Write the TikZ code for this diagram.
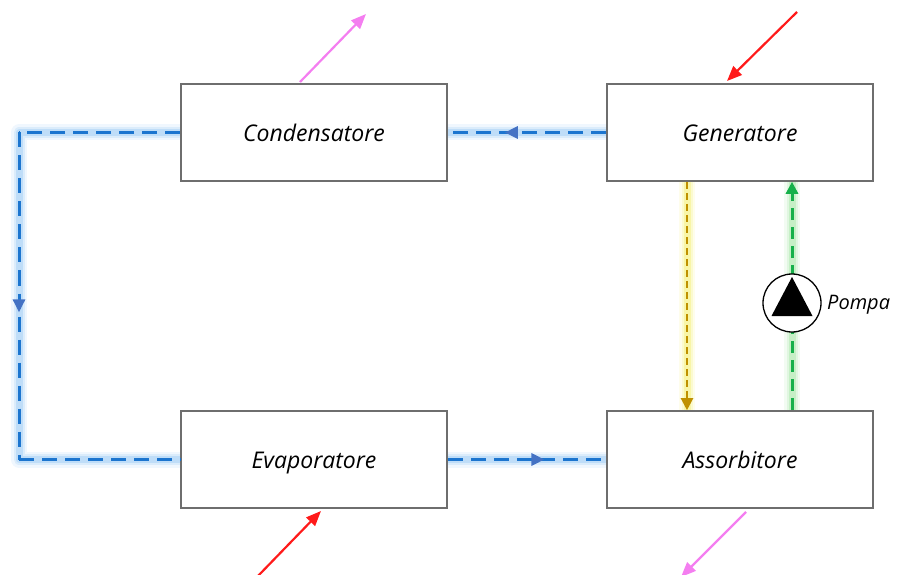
\documentclass[tikz,border=0pt]{standalone}
\usepackage{fontspec}
\setmainfont{Open Sans}
\usetikzlibrary{arrows.meta,decorations.markings}
\definecolor{flowblue}{HTML}{1C75CF}
\definecolor{tipblue}{HTML}{4472C4}
\definecolor{glowblue}{HTML}{9CCBF5}
\definecolor{flowgold}{HTML}{BF9000}
\definecolor{glowyellow}{HTML}{F5F07A}
\definecolor{flowgreen}{HTML}{16B04A}
\definecolor{glowgreen}{HTML}{A8E6A8}
\definecolor{boxgray}{HTML}{6E6E6E}
\definecolor{heatred}{HTML}{FF1A1A}
\definecolor{heatpink}{HTML}{F47EF0}
\tikzset{
  unit/.style={draw=boxgray, line width=1.6pt, minimum width=266pt, minimum height=97pt,
    font=\itshape\fontsize{23}{27}\selectfont, inner sep=0pt, text height=22pt, text depth=4pt},
  glowouter/.style={draw=#1, line width=16pt, opacity=0.15, line join=round},
  glowline/.style={draw=#1, line width=11pt, opacity=0.25, line join=round},
  glowcore/.style={draw=#1, line width=7pt, opacity=0.45, line join=round},
  blueflow/.style={draw=flowblue, line width=3pt, dash pattern=on 15pt off 8pt},
  midtip/.style={postaction={decorate, decoration={markings,
      mark=at position #1 with {\arrow{Triangle[length=13pt,width=12pt,color=tipblue]}}}}},
  heat/.style={draw=#1, line width=2.2pt, -{Triangle[length=15pt,width=12pt]}},
}
\begin{document}
\begin{tikzpicture}[x=1pt,y=-1pt]
\useasboundingbox (0,0) rectangle (898,575);
\node[unit] (cond) at (314,132.5) {Condensatore};
\node[unit] (gen)  at (740,132.5) {Generatore};
\node[unit] (evap) at (314,459.5) {Evaporatore};
\node[unit] (ass)  at (740,459.5) {Assorbitore};

\coordinate (tl) at (19,132.5);
\coordinate (bl) at (19,459.5);

% glows
\foreach \s in {glowouter,glowline,glowcore}{
  \draw[\s=glowblue] (cond.west) -- (tl) -- (bl) -- (evap.west);
  \draw[\s=glowblue] (gen.west) -- (cond.east);
  \draw[\s=glowblue] (evap.east) -- (ass.west);
  \draw[\s=glowyellow] ([xshift=-53pt]gen.south) -- ([xshift=-53pt]ass.north);
  \draw[\s=glowgreen] ([xshift=52pt]ass.north) -- ([xshift=52pt]gen.south);
}

% blue flows
\draw[blueflow] (cond.west) -- (tl);
\draw[blueflow, midtip=0.55] (tl) -- (bl);
\draw[blueflow] (bl) -- (evap.west);
\draw[blueflow, midtip=0.64] (gen.west) -- (cond.east);
\draw[blueflow, midtip=0.61] (evap.east) -- (ass.west);

% solution lines
\draw[draw=flowgold, line width=2.2pt, dash pattern=on 7pt off 4pt,
  -{Triangle[length=12pt,width=12pt]}] ([xshift=-53pt]gen.south) -- ([xshift=-53pt]ass.north);
\coordinate (pc) at (792,303);
\draw[draw=flowgreen, line width=3pt, dash pattern=on 12pt off 7pt,
  -{Triangle[length=12pt,width=12pt]}] ([xshift=52pt]ass.north) -- ([xshift=52pt]gen.south);

% pump
\node[circle, draw=black, fill=white, line width=1.3pt, minimum size=58pt, inner sep=0pt] (pump) at (pc) {};
\fill[black] (792,277) -- (812.5,316) -- (771.5,316) -- cycle;
\node[anchor=west, font=\itshape\fontsize{20}{23}\selectfont, inner sep=0pt] (pompa) at (827,305) {Pompa};

% heat arrows
\coordinate (c1) at (300,82);  \coordinate (c2) at (366,14);
\coordinate (g1) at (797,12);  \coordinate (g2) at (727,81);
\coordinate (e1) at (257,577); \coordinate (e2) at (321,511);
\coordinate (a1) at (746,512); \coordinate (a2) at (681,577);
\draw[heat=heatpink] (c1) -- (c2);
\draw[heat=heatred] (g1) -- (g2);
\draw[heat=heatred] (e1) -- (e2);
\draw[heat=heatpink] (a1) -- (a2);
\end{tikzpicture}
\end{document}
